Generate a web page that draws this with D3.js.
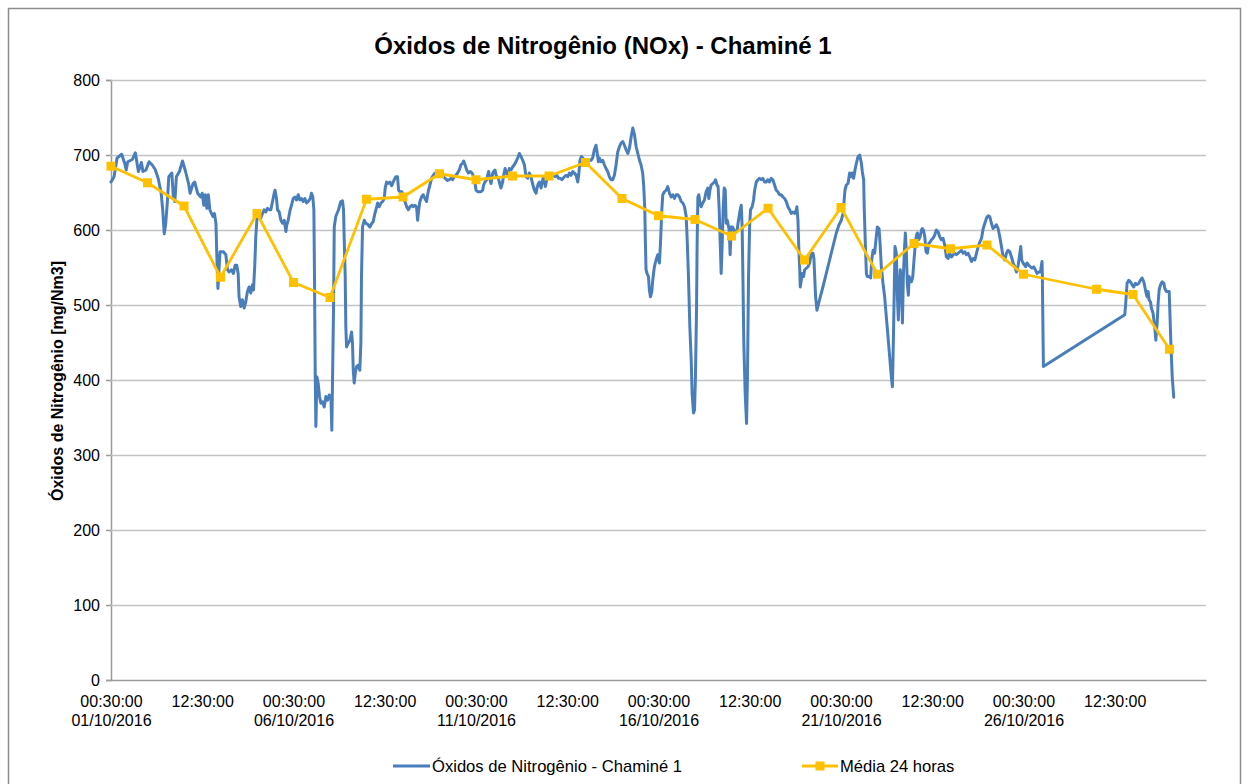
<!DOCTYPE html>
<html>
<head>
<meta charset="utf-8">
<script src="https://cdn.jsdelivr.net/npm/d3@7"></script>
<style>
  html, body { margin: 0; padding: 0; background: #fff; }
  svg { display: block; font-family: "Liberation Sans", Arial, sans-serif; }
</style>
</head>
<body>
<svg id="chart" width="1249" height="784"></svg>
<script>
// ---------- DATA ----------
const chartTitle = "Óxidos de Nitrogênio (NOx) - Chaminé 1";
const yAxisTitle = "Óxidos de Nitrogênio [mg/Nm3]";
const seriesNames = ["Óxidos de Nitrogênio - Chaminé 1", "Média 24 horas"];

// Hours elapsed since 01/10/2016 00:30:00 (hourly readings)
const noxHours = [0,2,4,7,9,10,11,14,16,18,20,21,23,25,27,29,31,33,34,35,36,37,38,40,41,42,43,45,47,49,51,52,54,55,57,59,60,61,62,63,64,65,67,68,69,69.6,70.3,
71.7,73.9,75.5,76.6,77.6,79.2,80.5,81.6,82.7,83.6,84.2,85.3,86.4,87.5,88.6,89.7,90.8,91.9,93.0,93.7,94.6,95.2,95.9,96.7,98.5,99.6,100.7,101.8,102.9,104.0,105.1,106.2,107.3,107.9,108.8,109.5,110.6,111.7,112.8,113.9,115.0,115.6,116.5,117.8,118.7,119.8,120.9,122.0,123.1,124.2,125.3,126.4,127.5,128.6,129.7,131.0,131.8,132.7,133.4,133.8,134.3,134.7,135.4,136.2,137.1,138.0,139.1,140.2,141.3,142.4,143.5,144.6,145.2,
146.3,146.8,147.8,149.6,151.1,152.2,152.9,153.3,154.0,154.4,154.9,156.0,157.1,158.2,158.8,159.3,159.9,160.6,161.5,162.8,163.6,164.3,164.7,165.4,166.5,167.6,169.1,170.2,171.5,172.4,173.5,174.2,175.3,176.4,177.5,178.6,179.7,180.3,181.2,182.3,183.4,184.5,185.2,186.2,187.3,188.4,189.1,190.0,191.3,192.2,193.3,194.4,195.5,196.6,197.9,198.8,199.8,200.9,201.6,202.3,203.1,204.2,205.3,206.4,207.5,208.2,208.8,209.7,210.8,211.9,213.2,214.1,215.2,216.3,217.4,218.5,
221.3,222.4,223.5,224.6,225.7,226.8,227.9,229.0,230.1,231.2,231.9,232.8,233.9,235.0,236.3,237.4,238.5,239.3,240.0,241.1,242.2,243.3,244.4,245.0,245.9,247.0,247.7,248.3,249.2,249.9,251.0,251.6,252.5,253.2,253.8,254.7,255.3,256.4,257.5,258.2,259.1,259.7,260.8,261.9,263.0,264.1,265.2,266.3,267.4,268.5,269.6,270.7,271.8,272.9,274.0,275.1,276.2,276.9,277.7,278.4,279.5,280.1,281.0,281.7,282.8,283.4,284.3,285.0,285.6,286.5,287.6,288.7,289.8,290.9,292.0,293.1,294.2,295.3,296.4,
298.1,299.2,300.3,301.4,302.5,303.6,304.7,305.8,306.9,307.5,308.4,309.3,310.2,311.3,312.4,313.4,314.5,315.6,316.7,317.8,318.9,319.6,320.5,321.1,322.2,323.3,324.4,325.5,326.6,327.7,328.8,329.9,331.0,332.1,333.2,334.3,335.4,336.5,337.6,338.7,339.8,340.9,342.0,343.1,344.2,345.3,346.4,347.5,348.5,349.6,350.3,351.0,351.4,351.8,352.5,353.4,354.0,354.7,355.6,356.2,357.3,358.4,359.5,360.6,361.3,362.2,362.8,363.9,365.0,366.1,367.2,368.3,369.4,370.5,371.6,
372.7,373.8,374.9,376.0,377.1,378.2,378.8,379.7,380.6,381.5,382.1,383.0,383.7,384.3,385.0,385.4,385.9,386.5,387.2,388.1,389.1,390.2,391.3,392.4,393.1,393.8,394.6,395.7,396.8,397.5,398.4,399.2,399.9,400.6,401.2,401.9,402.5,403.2,403.9,404.5,405.2,405.8,406.5,407.1,407.8,408.7,409.6,410.4,411.7,412.6,413.7,414.4,415.0,415.5,416.1,417.0,417.9,418.5,419.2,419.9,420.5,421.6,422.5,423.2,424.3,425.4,426.4,427.5,428.6,429.7,430.8,431.9,433.0,434.1,435.2,436.3,437.4,438.5,439.6,440.7,441.8,442.9,444.0,445.1,446.2,447.3,
448.4,449.5,450.6,451.0,451.7,452.3,452.8,453.2,453.9,454.5,455.4,456.1,457.2,458.3,459.4,460.5,461.6,462.2,462.7,463.3,464.2,465.9,468.1,470.3,472.5,474.7,476.9,478.7,480.2,481.3,482.0,482.6,483.5,484.6,485.7,486.8,487.4,488.3,489.2,490.1,491.2,492.3,493.4,494.0,494.9,495.3,496.0,496.7,497.3,498.4,499.5,500.2,501.1,502.1,503.2,503.9,505.0,505.7,506.5,507.6,508.7,509.8,510.9,512.0,513.1,513.8,514.4,515.1,515.5,516.4,517.1,517.7,518.4,519.0,519.7,520.4,521.0,521.7,522.3,523.0,523.6,524.3,
524.8,525.4,526.3,527.2,528.0,528.9,529.6,530.2,531.1,532.0,532.9,533.5,534.2,535.1,535.9,536.8,537.7,538.6,539.5,540.5,541.6,542.7,543.8,544.9,546.0,547.1,548.2,549.3,550.4,551.5,552.6,553.7,554.8,555.9,557.0,558.1,559.2,560.3,561.4,562.5,563.6,564.7,565.8,566.9,568.0,569.1,570.2,571.3,572.4,573.5,574.6,575.7,576.8,577.8,578.9,580.0,581.1,582.2,583.3,584.4,585.5,586.6,587.7,588.8,589.9,591.0,592.1,593.2,594.3,595.4,596.5,597.6,
598.2,598.8,599.7,600.8,601.4,602.3,603.4,604.5,605.6,606.7,607.8,608.9,610.0,611.1,611.8,612.2,612.4,612.9,613.1,
666.6,667.2,668.1,669.2,670.3,671.4,672.5,673.6,674.7,675.8,676.9,678.0,679.1,679.8,680.4,681.3,681.9,682.6,683.5,684.1,685.2,686.3,687.0,687.9,688.5,689.2,690.1,691.2,692.3,692.9,694.0,695.1,695.8,696.2,696.9,697.8,698.8];

const noxValues = [664,671,696,701,689,680,691,694,703,678,690,678,680,691,687,681,669,649,627,595,609,636,671,676,644,638,671,678,692,678,662,649,662,664,649,644,649,633,647,629,647,627,618,622,609,564,522,
571,571,567,547,544,547,542,553,553,542,511,498,507,496,504,518,524,516,527,520,556,591,613,620,616,622,627,624,629,627,627,638,649,653,642,627,624,613,609,613,598,607,613,627,633,642,644,640,647,640,642,638,642,636,638,642,649,644,627,538,404,338,404,396,378,369,371,364,378,373,380,378,333,
493,604,618,627,638,639,627,591,538,471,444,449,453,464,449,413,396,409,418,420,413,449,538,604,613,609,607,604,609,611,622,627,636,631,636,638,642,656,664,662,664,659,662,667,671,671,653,651,651,642,638,631,627,631,633,631,633,631,613,627,638,644,647,642,638,647,653,660,669,673,676,673,671,673,673,671,
666,667,669,667,671,673,676,680,687,689,692,687,680,676,678,676,671,664,653,651,651,651,653,660,664,667,673,678,667,662,676,678,680,673,671,669,664,656,664,673,682,678,673,682,680,684,687,691,696,702,698,693,687,671,669,676,671,664,658,653,649,656,662,664,656,662,671,669,658,667,669,671,673,673,671,673,669,669,667,
671,673,671,676,673,678,676,673,664,673,693,698,696,693,687,689,693,693,696,707,713,704,691,696,691,693,687,682,678,671,667,667,673,687,704,711,716,718,713,707,702,709,724,736,727,711,702,693,687,676,658,627,582,547,542,538,520,511,518,533,551,560,567,556,582,627,647,651,653,658,649,644,647,642,647,
647,644,638,636,631,618,591,538,471,427,382,356,360,404,493,582,644,647,636,631,636,640,651,656,642,653,660,662,664,667,660,658,627,582,542,582,627,656,653,609,613,607,600,567,604,604,600,596,600,613,627,633,604,538,449,382,342,404,538,604,627,631,640,653,664,667,669,667,669,664,664,667,664,669,667,660,653,651,647,647,644,642,638,631,627,622,
624,622,627,631,613,573,551,524,533,542,538,547,549,551,556,569,569,562,538,511,493,507,524,542,560,578,596,607,613,622,638,653,660,662,676,671,676,669,680,689,698,700,689,678,667,627,582,542,538,538,536,560,573,569,591,604,602,582,551,529,511,484,458,431,404,391,449,529,578,569,511,480,524,547,529,476,538,573,596,569,529,513,
538,533,531,538,560,582,593,596,587,591,600,602,600,591,571,569,582,584,587,589,593,600,598,591,587,589,580,564,562,569,564,567,569,567,569,571,573,569,571,567,569,564,558,562,560,569,578,584,589,602,609,616,619,618,609,602,604,607,602,591,578,564,560,569,573,571,564,556,551,544,553,569,
578,560,556,553,551,556,553,551,549,551,547,542,544,544,553,558,538,449,418,
487,502,529,533,531,527,524,529,527,529,533,536,531,524,518,511,518,507,504,496,489,471,453,476,502,520,527,531,529,522,518,518,518,493,449,404,377];

// 24-hour averages: day of October 2016 (reading at 00:30 of that day)
const avgDays = [1,2,3,4,5,6,7,8,9,10,11,12,13,14,15,16,17,18,19,20,21,22,23,24,25,26,28,29,30];
const avgValues = [685,663,632,537,622,530,510,641,644,675,667,672,672,690,642,619,614,592,629,560,630,541,582,575,580,541,521,514,441];

// Axis ticks
const yTicks = [0,100,200,300,400,500,600,700,800];
const xTickHours = [0,60,120,180,240,300,360,420,480,540,600,660];
const xTickLine1 = ["00:30:00","12:30:00","00:30:00","12:30:00","00:30:00","12:30:00","00:30:00","12:30:00","00:30:00","12:30:00","00:30:00","12:30:00"];
const xTickLine2 = ["01/10/2016","","06/10/2016","","11/10/2016","","16/10/2016","","21/10/2016","","26/10/2016",""];

// ---------- CHART ----------
const svg = d3.select("#chart");
const W = 1249, H = 784;
const plot = {left: 111, right: 1206, top: 80, bottom: 680};
const HOUR = 3600 * 1000;
const t0 = Date.UTC(2016, 9, 1, 0, 30);
const toDate = h => new Date(t0 + h * HOUR);

const x = d3.scaleUtc().domain([toDate(0), toDate(720)]).range([plot.left, plot.right]);
const y = d3.scaleLinear().domain([0, 800]).range([plot.bottom, plot.top]);

const blue = "#4a7ebb", gold = "#ffc000", grid = "#c3c3c3", axisCol = "#9a9a9a";

// chart area border
svg.append("rect").attr("x", 8.5).attr("y", 8.5).attr("width", W - 17).attr("height", H)
  .attr("fill", "#fff").attr("stroke", "#8c8c8c").attr("stroke-width", 1.5);

// title
svg.append("text").attr("x", 603).attr("y", 54).attr("text-anchor", "middle")
  .attr("font-size", 24).attr("font-weight", "bold").attr("fill", "#000").text(chartTitle);

// gridlines + y axis
const yAxis = d3.axisLeft(y).tickValues(yTicks).tickSize(5).tickPadding(6);
const gy = svg.append("g").attr("transform", `translate(${plot.left},0)`).call(yAxis);
gy.select(".domain").attr("stroke", axisCol).attr("stroke-width", 1.5);
gy.selectAll(".tick line").attr("stroke", axisCol).attr("stroke-width", 1.5);
gy.selectAll(".tick text").attr("font-size", 16).attr("fill", "#000")
  .attr("font-family", "'Liberation Sans', Arial, sans-serif");
gy.selectAll(".tick").filter(d => d > 0).append("line")
  .attr("x1", 0).attr("x2", plot.right - plot.left)
  .attr("stroke", grid).attr("stroke-width", 1.5);

// x axis
const xAxis = d3.axisBottom(x).tickValues(xTickHours.map(toDate)).tickSize(0).tickFormat("");
const gx = svg.append("g").attr("transform", `translate(0,${plot.bottom})`).call(xAxis);
gx.select(".domain").attr("stroke", axisCol).attr("stroke-width", 1.5);
gx.selectAll(".tick").each(function(d, i) {
  const t = d3.select(this).append("text").attr("fill", "#000").attr("font-size", 16)
    .attr("text-anchor", "middle");
  t.append("tspan").attr("x", 0).attr("y", 27).text(xTickLine1[i]);
  if (xTickLine2[i]) t.append("tspan").attr("x", 0).attr("y", 46).text(xTickLine2[i]);
});

// y-axis title
svg.append("text").attr("transform", `translate(63,381) rotate(-90)`)
  .attr("text-anchor", "middle").attr("font-size", 16).attr("font-weight", "bold")
  .text(yAxisTitle);

// series
const noxData = noxHours.map((h, i) => ({t: toDate(h), v: noxValues[i]}));
const avgData = avgDays.map((d, i) => ({t: toDate((d - 1) * 24), v: avgValues[i]}));
const line = d3.line().x(d => x(d.t)).y(d => y(d.v));

svg.append("path").datum(noxData).attr("d", line).attr("fill", "none")
  .attr("stroke", blue).attr("stroke-width", 3).attr("stroke-linejoin", "round").attr("stroke-linecap", "round");

svg.append("path").datum(avgData).attr("d", line).attr("fill", "none")
  .attr("stroke", gold).attr("stroke-width", 2.8).attr("stroke-linejoin", "round");

svg.append("g").selectAll("rect").data(avgData).join("rect")
  .attr("x", d => x(d.t) - 4.5).attr("y", d => y(d.v) - 4.5)
  .attr("width", 9).attr("height", 9).attr("fill", gold);

// legend
const leg = svg.append("g").attr("font-size", 16.6);
leg.append("line").attr("x1", 393).attr("x2", 430).attr("y1", 766).attr("y2", 766)
  .attr("stroke", blue).attr("stroke-width", 3);
leg.append("text").attr("x", 432).attr("y", 772).text(seriesNames[0]);
leg.append("line").attr("x1", 802).attr("x2", 838).attr("y1", 766).attr("y2", 766)
  .attr("stroke", gold).attr("stroke-width", 2.8);
leg.append("rect").attr("x", 815.5).attr("y", 761.5).attr("width", 9).attr("height", 9).attr("fill", gold);
leg.append("text").attr("x", 840).attr("y", 772).text(seriesNames[1]);
</script>
</body>
</html>
